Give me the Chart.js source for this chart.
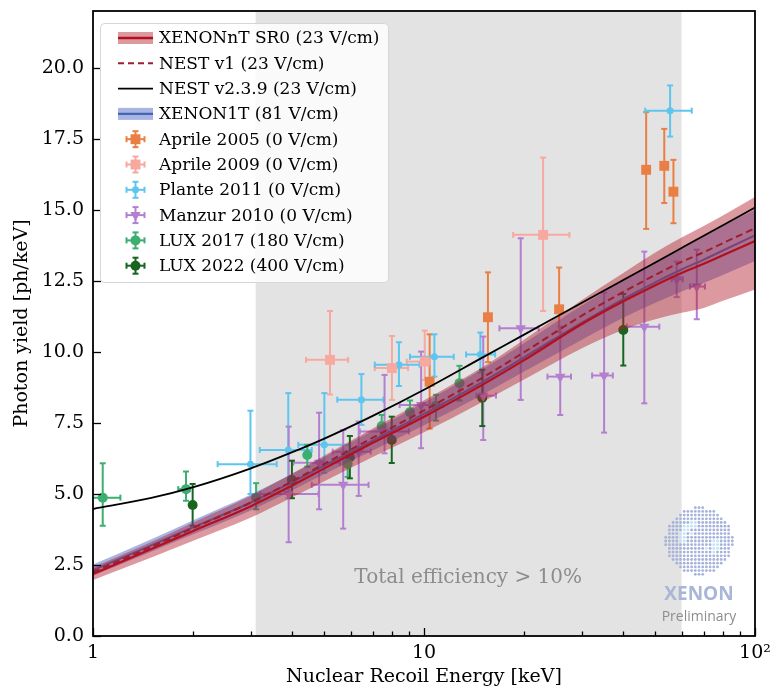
<!DOCTYPE html>
<html>
<head>
<meta charset="utf-8">
<script src="https://cdn.jsdelivr.net/npm/chart.js@4.4.0/dist/chart.umd.min.js"></script>
<style>
  html, body { margin: 0; padding: 0; background: #fff; }
  #wrap { width: 776px; height: 691px; }
</style>
</head>
<body>
<div id="wrap"><canvas id="c" width="776" height="691"></canvas></div>
<script>
// model curves (energy in keV, photon yield in ph/keV)
const curveE = [1, 1.5, 2, 3, 4, 5, 7, 10, 15, 20, 30, 40, 50, 60, 70, 80, 100];
const nestV2 = [4.47, 4.86, 5.23, 5.9, 6.47, 6.95, 7.75, 8.67, 9.8, 10.6, 11.73, 12.53, 13.15, 13.66, 14.09, 14.46, 15.08];
const nestV1 = [2.25, 3.14, 3.79, 4.7, 5.45, 6.06, 6.98, 7.94, 9.09, 9.98, 11.28, 12.11, 12.71, 13.17, 13.51, 13.83, 14.35];
const sr0    = [2.18, 3.06, 3.69, 4.57, 5.3, 5.9, 6.8, 7.72, 8.84, 9.7, 10.98, 11.78, 12.35, 12.78, 13.1, 13.4, 13.9];
const sr0Lo  = [1.97, 2.76, 3.34, 4.17, 4.88, 5.45, 6.3, 7.17, 8.24, 9.02, 10.13, 10.78, 11.15, 11.38, 11.55, 11.8, 12.2];
const sr0Hi  = [2.42, 3.31, 3.99, 4.94, 5.72, 6.35, 7.3, 8.3, 9.46, 10.42, 11.83, 12.78, 13.5, 14.03, 14.43, 14.8, 15.45];
const x1t    = [2.32, 3.19, 3.82, 4.7, 5.42, 6.0, 6.88, 7.82, 8.94, 9.8, 11.03, 11.86, 12.45, 12.9, 13.25, 13.57, 14.1];
const x1tLo  = [2.12, 2.97, 3.57, 4.42, 5.13, 5.7, 6.53, 7.42, 8.49, 9.3, 10.43, 11.2, 11.73, 12.13, 12.43, 12.71, 13.2];
const x1tHi  = [2.52, 3.41, 4.07, 4.98, 5.71, 6.3, 7.23, 8.22, 9.39, 10.3, 11.63, 12.52, 13.17, 13.67, 14.07, 14.43, 15.0];

// measurements
const a05E = [10.4, 15.6, 25.6, 46.9, 53.2, 56.7];
const a05Y = [8.95, 11.22, 11.5, 16.41, 16.55, 15.64];
const a05YLo = [7.3, 9.64, 10.7, 14.33, 15.24, 14.53];
const a05YHi = [10.62, 12.8, 12.97, 18.44, 17.85, 16.76];

const a09E = [5.2, 8.0, 10.05, 22.9];
const a09Y = [9.72, 9.43, 9.66, 14.12];
const a09YLo = [8.5, 8.31, 9.01, 11.44];
const a09YHi = [11.44, 10.56, 10.75, 16.84];
const a09XLo = [4.4, 7.1, 8.87, 18.6];
const a09XHi = [5.9, 8.95, 10.4, 27.5];

const plE = [2.99, 3.89, 5.0, 6.47, 8.4, 10.75, 14.8, 55.4];
const plY = [6.05, 6.55, 6.73, 8.32, 9.55, 9.83, 9.91, 18.49];
const plYLo = [5.0, 4.85, 5.74, 7.43, 8.8, 9.13, 9.27, 17.58];
const plYHi = [7.93, 8.55, 8.55, 9.22, 10.34, 10.62, 10.68, 19.38];
const plXLo = [2.38, 3.19, 4.17, 5.47, 7.1, 9.07, 13.4, 46.6];
const plXHi = [3.59, 4.58, 5.97, 7.54, 9.7, 12.3, 16.4, 64.4];

const mzE = [3.9, 4.82, 5.7, 6.35, 7.6, 9.8, 15.1, 19.6, 25.8, 35.0, 46.3, 58.0, 66.7];
const mzY = [5.0, 6.1, 5.32, 6.49, 7.2, 8.13, 8.46, 10.83, 9.13, 9.17, 10.89, 12.56, 12.3];
const mzYLo = [3.3, 4.46, 3.78, 4.93, 6.43, 6.61, 6.9, 8.31, 7.78, 7.16, 8.19, 11.93, 11.15];
const mzYHi = [7.37, 7.86, 7.25, 7.55, 9.19, 10.01, 10.54, 14.0, 10.89, 12.09, 13.53, 13.18, 13.6];
const mzXLo = [3.2, 4.03, 4.58, 5.3, 6.4, 8.44, 14.4, 16.9, 23.6, 32.2, 41.0, 56.0, 63.6];
const mzXHi = [4.8, 5.57, 6.8, 6.9, 9.0, 11.4, 16.5, 22.2, 27.8, 37.2, 51.4, 60.5, 70.6];

const l17E = [1.07, 1.91, 3.11, 4.44, 5.88, 7.45, 9.07, 10.87, 12.8];
const l17Y = [4.87, 5.17, 4.87, 6.37, 6.06, 7.39, 7.88, 8.1, 8.9];
const l17YLo = [3.88, 4.76, 4.46, 5.96, 5.6, 7.02, 7.49, 7.58, 8.29];
const l17YHi = [6.08, 5.79, 5.38, 6.73, 6.5, 7.78, 8.29, 8.49, 9.51];
const l17XLo = [0.93, 1.81, null, null, null, null, null, null, null];
const l17XHi = [1.21, 1.96, null, null, null, null, null, null, null];

const l22E = [2.0, 3.99, 5.97, 7.99, 15.0, 40.0];
const l22Y = [4.61, 5.49, 6.29, 6.9, 8.39, 10.77];
const l22YLo = [3.88, 4.85, 5.55, 6.09, 7.39, 9.52];
const l22YHi = [5.35, 6.17, 7.04, 7.72, 9.37, 12.04];

// axes
const yTicks = [0, 2.5, 5, 7.5, 10, 12.5, 15, 17.5, 20];
const xMajor = [1, 10, 100];
const xMajorLabels = ['1', '10', '10\u00b2'];
const xMinor = [2, 3, 4, 5, 6, 7, 8, 9, 20, 30, 40, 50, 60, 70, 80, 90];
const effRange = [3.1, 60];
const effLabel = 'Total efficiency > 10%';

const pts = (xs, ys) => xs.map((x, i) => ({ x: x, y: ys[i] }));

function curve(ys, opts) {
  return Object.assign({
    type: 'line', data: pts(curveE, ys), pointRadius: 0, borderWidth: 0,
    fill: false, cubicInterpolationMode: 'monotone'
  }, opts);
}

function measured(label, color, xs, ys, err, style, radius, rank) {
  return {
    type: 'scatter', label: label, data: pts(xs, ys),
    backgroundColor: color, borderColor: color, borderWidth: 0,
    pointStyle: style, pointRadius: radius, pointRotation: style === 'triangle' ? 180 : 0,
    order: 20, err: err, legendKind: 'err', legendRank: rank
  };
}

const datasets = [
  curve(x1tHi, { fill: '+1', backgroundColor: 'rgba(62, 92, 190, 0.45)', order: 10 }),
  curve(x1tLo, { order: 10 }),
  curve(x1t, { label: 'XENON1T (81 V/cm)', borderColor: '#4565b5', borderWidth: 2, order: 9,
    legendKind: 'band', legendFill: 'rgba(62, 92, 190, 0.45)', legendRank: 3 }),
  curve(sr0Hi, { fill: '+1', backgroundColor: 'rgba(178, 28, 44, 0.45)', order: 8 }),
  curve(sr0Lo, { order: 8 }),
  curve(nestV1, { label: 'NEST v1 (23 V/cm)', borderColor: '#a01c30', borderWidth: 2, borderDash: [7, 4],
    order: 3, legendKind: 'dash', legendRank: 1 }),
  curve(sr0, { label: 'XENONnT SR0 (23 V/cm)', borderColor: '#b3101f', borderWidth: 2.2, order: 2,
    legendKind: 'band', legendFill: 'rgba(178, 28, 44, 0.45)', legendRank: 0 }),
  curve(nestV2, { label: 'NEST v2.3.9 (23 V/cm)', borderColor: '#000', borderWidth: 1.8, order: 1,
    legendKind: 'line', legendRank: 2 }),
  measured('Aprile 2005 (0 V/cm)', '#ea7f45', a05E, a05Y, { yLo: a05YLo, yHi: a05YHi }, 'rect', 7, 4),
  measured('Aprile 2009 (0 V/cm)', '#f7a9a0', a09E, a09Y, { yLo: a09YLo, yHi: a09YHi, xLo: a09XLo, xHi: a09XHi }, 'rect', 7, 5),
  measured('Plante 2011 (0 V/cm)', '#5ec6ee', plE, plY, { yLo: plYLo, yHi: plYHi, xLo: plXLo, xHi: plXHi }, 'circle', 3.5, 6),
  measured('Manzur 2010 (0 V/cm)', '#b57fd0', mzE, mzY, { yLo: mzYLo, yHi: mzYHi, xLo: mzXLo, xHi: mzXHi }, 'triangle', 6, 7),
  measured('LUX 2017 (180 V/cm)', '#3cae70', l17E, l17Y, { yLo: l17YLo, yHi: l17YHi, xLo: l17XLo, xHi: l17XHi }, 'circle', 5, 8),
  measured('LUX 2022 (400 V/cm)', '#17651f', l22E, l22Y, { yLo: l22YLo, yHi: l22YHi }, 'circle', 5, 9)
];

function seg(ctx, x0, y0, x1, y1) {
  ctx.beginPath(); ctx.moveTo(x0, y0); ctx.lineTo(x1, y1); ctx.stroke();
}

// grey efficiency region + error bars, underneath all datasets
const underlay = {
  id: 'underlay',
  beforeDatasetsDraw(chart) {
    const { ctx, chartArea: a, scales: { x, y } } = chart;
    ctx.save();
    ctx.beginPath(); ctx.rect(a.left, a.top, a.width, a.height); ctx.clip();
    const x0 = x.getPixelForValue(effRange[0]), x1 = x.getPixelForValue(effRange[1]);
    ctx.fillStyle = '#e3e3e3';
    ctx.fillRect(x0, a.top, x1 - x0, a.height);
    ctx.fillStyle = '#8c8c8c';
    ctx.font = '20px "DejaVu Serif"';
    ctx.textAlign = 'center'; ctx.textBaseline = 'middle';
    ctx.fillText(effLabel, x.getPixelForValue(13.6), y.getPixelForValue(2.05));

    ctx.lineWidth = 2;
    chart.data.datasets.forEach(ds => {
      if (!ds.err) return;
      const e = ds.err;
      ctx.strokeStyle = ds.borderColor;
      ds.data.forEach((p, i) => {
        const px = x.getPixelForValue(p.x), py = y.getPixelForValue(p.y);
        const lo = y.getPixelForValue(e.yLo[i]), hi = y.getPixelForValue(e.yHi[i]);
        seg(ctx, px, lo, px, hi);
        seg(ctx, px - 3, lo, px + 3, lo);
        seg(ctx, px - 3, hi, px + 3, hi);
        if (e.xLo && e.xLo[i] != null) {
          const l = x.getPixelForValue(e.xLo[i]), r = x.getPixelForValue(e.xHi[i]);
          seg(ctx, l, py, r, py);
          seg(ctx, l, py - 3, l, py + 3);
          seg(ctx, r, py - 3, r, py + 3);
        }
      });
    });
    ctx.restore();
  }
};

// spines, inward ticks, logo and legend
const overlay = {
  id: 'overlay',
  afterDraw(chart) {
    const { ctx, chartArea: a, scales: { x, y } } = chart;
    ctx.save();
    // logo
    const cx = a.right - 56, cy = a.bottom - 95, R = 34, step = 3.7;
    for (let i = -10; i <= 10; i++) {
      for (let j = -10; j <= 10; j++) {
        const dx = i * step, dy = j * step, r = Math.hypot(dx, dy);
        if (r > R) continue;
        const ang = Math.atan2(dy, dx) * 180 / Math.PI;
        const light = (r > 0.42 * R && r < 0.62 * R && (ang < -100 || ang > 170 || (ang > -10 && ang < 40))) ||
                      (r > 0.2 * R && r < 0.45 * R && Math.abs(dx - dy) < 3);
        ctx.fillStyle = light ? '#c0e4f3' : '#a5b2da';
        ctx.beginPath(); ctx.arc(cx + dx, cy + dy, 1.4, 0, Math.PI * 2); ctx.fill();
      }
    }
    ctx.textAlign = 'center'; ctx.textBaseline = 'middle';
    ctx.fillStyle = '#a9b6d8';
    ctx.font = 'bold 19px "Open Sans"';
    ctx.fillText('XENON', cx, a.bottom - 41);
    ctx.fillStyle = '#8d8d8d';
    ctx.font = '14px "Open Sans"';
    ctx.fillText('Preliminary', cx, a.bottom - 19);

    // spines and ticks
    ctx.strokeStyle = '#000';
    ctx.lineWidth = 1.3;
    yTicks.forEach(v => {
      const py = Math.round(y.getPixelForValue(v)) + 0.5;
      seg(ctx, a.left, py, a.left + 8, py);
    });
    xMajor.forEach(v => {
      const px = Math.round(x.getPixelForValue(v)) + 0.5;
      seg(ctx, px, a.bottom, px, a.bottom - 8);
    });
    xMinor.forEach(v => {
      const px = Math.round(x.getPixelForValue(v)) + 0.5;
      seg(ctx, px, a.bottom, px, a.bottom - 4.5);
    });
    ctx.lineWidth = 1.8;
    ctx.strokeRect(a.left, a.top, a.width, a.height);

    // legend
    const items = chart.data.datasets.filter(d => d.legendKind)
      .sort((p, q) => p.legendRank - q.legendRank);
    const bx = a.left + 7, by = a.top + 12, bw = 288, rowH = 25.3;
    const bh = items.length * rowH + 6;
    ctx.fillStyle = 'rgba(255,255,255,0.8)';
    ctx.strokeStyle = '#d6d6d6';
    ctx.lineWidth = 1;
    ctx.beginPath();
    ctx.roundRect(bx + 0.5, by + 0.5, bw, bh, 4);
    ctx.fill(); ctx.stroke();
    ctx.font = '17px "DejaVu Serif"';
    ctx.textAlign = 'left'; ctx.textBaseline = 'middle';
    items.forEach((d, i) => {
      const ry = by + 15 + i * rowH;
      const h0 = bx + 18, h1 = bx + 53, hc = (h0 + h1) / 2;
      if (d.legendKind === 'band') {
        ctx.fillStyle = d.legendFill;
        ctx.fillRect(h0, ry - 6, h1 - h0, 12);
        ctx.strokeStyle = d.borderColor; ctx.lineWidth = 2.4; ctx.setLineDash([]);
        seg(ctx, h0, ry, h1, ry);
      } else if (d.legendKind === 'dash') {
        ctx.strokeStyle = d.borderColor; ctx.lineWidth = 2; ctx.setLineDash([6, 4]);
        seg(ctx, h0, ry, h1, ry);
        ctx.setLineDash([]);
      } else if (d.legendKind === 'line') {
        ctx.strokeStyle = d.borderColor; ctx.lineWidth = 1.8;
        seg(ctx, h0, ry, h1, ry);
      } else {
        ctx.strokeStyle = d.borderColor; ctx.fillStyle = d.backgroundColor; ctx.lineWidth = 2;
        seg(ctx, hc, ry - 8, hc, ry + 8);
        seg(ctx, hc - 3, ry - 8, hc + 3, ry - 8);
        seg(ctx, hc - 3, ry + 8, hc + 3, ry + 8);
        seg(ctx, hc - 9, ry, hc + 9, ry);
        seg(ctx, hc - 9, ry - 3, hc - 9, ry + 3);
        seg(ctx, hc + 9, ry - 3, hc + 9, ry + 3);
        Chart.helpers.drawPoint(ctx, {
          pointStyle: d.pointStyle, radius: d.pointRadius, rotation: d.pointRotation, borderWidth: 0
        }, hc, ry);
      }
      ctx.fillStyle = '#000';
      ctx.fillText(d.label, bx + 59, ry + 1);
    });
    ctx.restore();
  }
};

Chart.defaults.font.family = '"DejaVu Serif"';
Chart.defaults.color = '#000';

new Chart(document.getElementById('c'), {
  type: 'line',
  data: { datasets: datasets },
  plugins: [underlay, overlay],
  options: {
    responsive: false,
    devicePixelRatio: 1,
    animation: false,
    events: [],
    layout: { padding: { left: 0, top: 11, right: 21, bottom: 0 } },
    plugins: { legend: { display: false }, tooltip: { enabled: false } },
    scales: {
      x: {
        type: 'logarithmic', min: 1, max: 100,
        afterBuildTicks: s => { s.ticks = xMajor.concat(xMinor).sort((p, q) => p - q).map(v => ({ value: v })); },
        afterFit: s => { s.height = 55; s.paddingLeft = 0; s.paddingRight = 0; },
        ticks: {
          autoSkip: false, maxRotation: 0, padding: 6, color: '#000', font: { size: 19 },
          callback: v => { const k = xMajor.indexOf(v); return k >= 0 ? xMajorLabels[k] : ''; }
        },
        grid: { display: false, drawTicks: false },
        border: { display: false },
        title: { display: true, text: 'Nuclear Recoil Energy [keV]', font: { size: 19 }, padding: { top: 0, bottom: 3 } }
      },
      y: {
        type: 'linear', min: 0, max: 22,
        afterBuildTicks: s => { s.ticks = yTicks.map(v => ({ value: v })); },
        afterFit: s => { s.width = 93; s.paddingTop = 0; s.paddingBottom = 0; },
        ticks: { padding: 9, color: '#000', font: { size: 19 }, callback: v => v.toFixed(1) },
        grid: { display: false, drawTicks: false },
        border: { display: false },
        title: { display: true, text: 'Photon yield [ph/keV]', font: { size: 19 }, padding: { top: 11, bottom: 0 } }
      }
    }
  }
});
</script>
</body>
</html>
